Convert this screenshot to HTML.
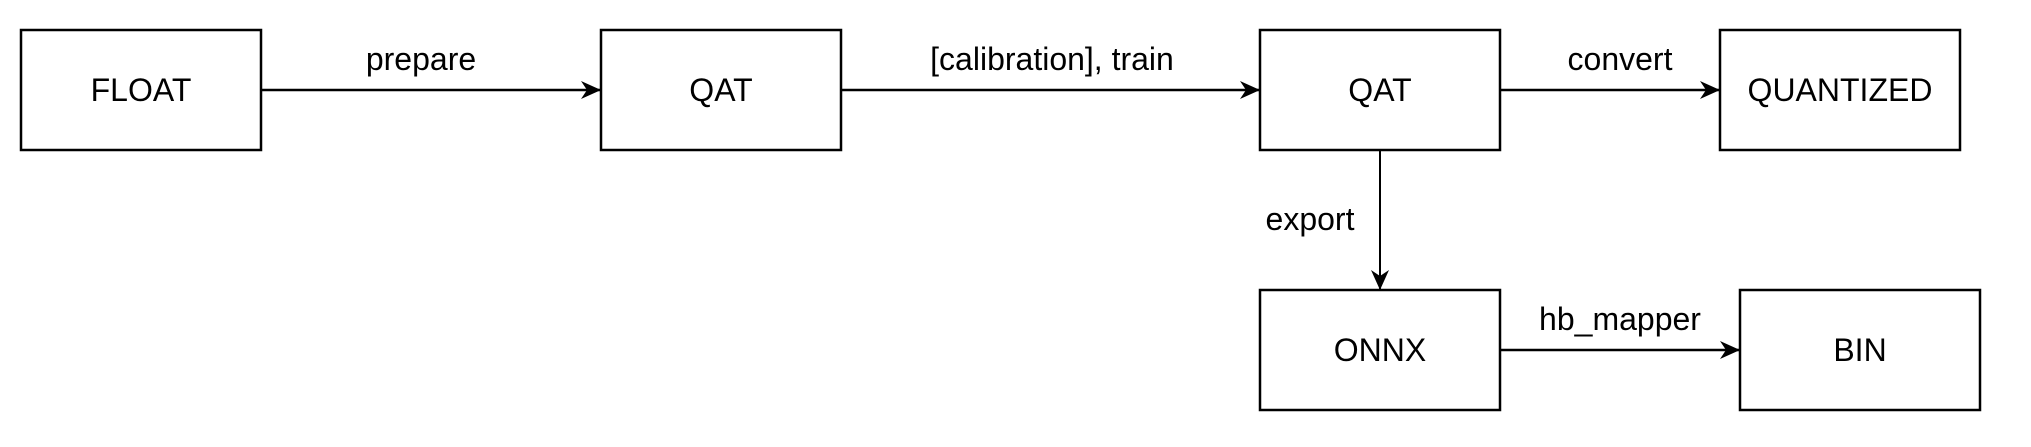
<!DOCTYPE html>
<html><head><meta charset="utf-8"><style>
html,body{margin:0;padding:0;background:#fff;}
svg{display:block;}
text{font-family:"Liberation Sans",Arial,sans-serif;font-size:32px;fill:#000;}
</style></head><body>
<svg width="2031" height="447" viewBox="0 0 2031 447" xmlns="http://www.w3.org/2000/svg">
<defs>
<marker id="a" markerUnits="userSpaceOnUse" markerWidth="24" markerHeight="24" refX="20" refY="12" orient="auto">
<path d="M0,3 L20,12 L0,21 L6,12 Z" fill="#000"/>
</marker>
</defs>
<g fill="#fff" stroke="#000" stroke-width="2.5">
<rect x="21" y="30" width="240" height="120"/>
<rect x="601" y="30" width="240" height="120"/>
<rect x="1260" y="30" width="240" height="120"/>
<rect x="1720" y="30" width="240" height="120"/>
<rect x="1260" y="290" width="240" height="120"/>
<rect x="1740" y="290" width="240" height="120"/>
</g>
<g stroke="#000" stroke-width="2.5" fill="none">
<line x1="261" y1="90" x2="601" y2="90" marker-end="url(#a)"/>
<line x1="841" y1="90" x2="1260" y2="90" marker-end="url(#a)"/>
<line x1="1500" y1="90" x2="1720" y2="90" marker-end="url(#a)"/>
<line x1="1380" y1="150" x2="1380" y2="290" marker-end="url(#a)" stroke-width="2"/>
<line x1="1500" y1="350" x2="1740" y2="350" marker-end="url(#a)"/>
</g>
<g text-anchor="middle">
<text x="141" y="101">FLOAT</text>
<text x="721" y="101">QAT</text>
<text x="1380" y="101">QAT</text>
<text x="1840" y="101">QUANTIZED</text>
<text x="1380" y="361">ONNX</text>
<text x="1860" y="361">BIN</text>
<text x="421" y="70">prepare</text>
<text x="1052" y="70">[calibration], train</text>
<text x="1620" y="70">convert</text>
<text x="1310" y="230">export</text>
<text x="1620" y="330">hb_mapper</text>
</g>
</svg>
</body></html>
